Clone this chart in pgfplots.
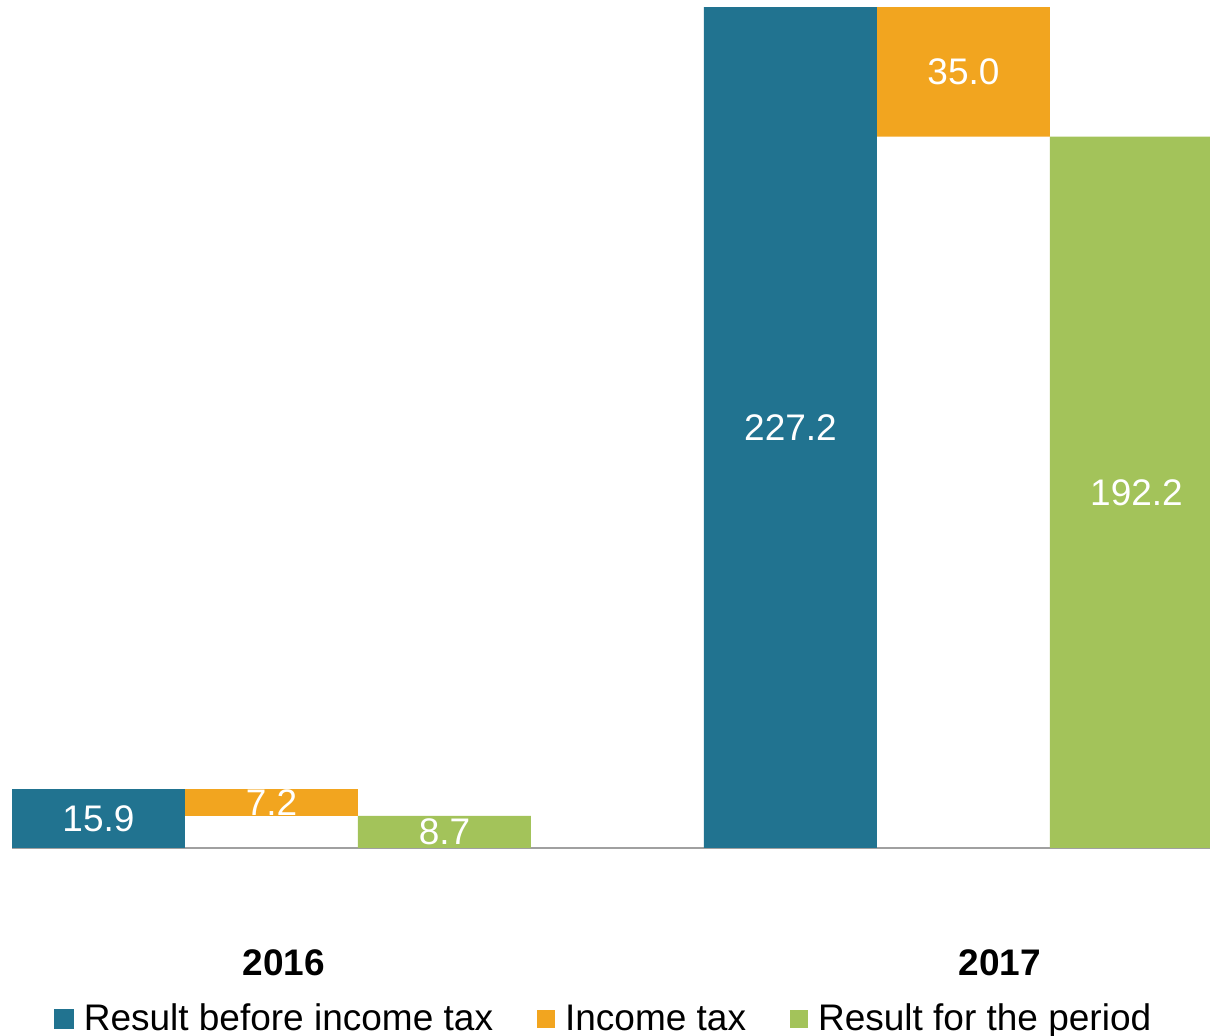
\documentclass[border=0pt]{standalone}
\usepackage{fontspec}
\setmainfont{Liberation Sans}
\usepackage{pgfplots}
\pgfplotsset{compat=1.18}
\definecolor{cblue}{HTML}{217390}
\definecolor{corange}{HTML}{F2A51F}
\definecolor{cgreen}{HTML}{A3C35A}
\definecolor{cline}{HTML}{A0A0A0}
\newcommand{\bigfont}{\fontsize{18.5}{22}\selectfont}
\begin{document}
\begin{tikzpicture}
\path[use as bounding box] (-6pt,-94pt) rectangle (599pt,424pt);
\begin{axis}[
  at={(0,0)}, anchor=south west,
  scale only axis, width=599pt, height=424pt,
  xmin=-0.5, xmax=6.425, ymin=0, ymax=229.1,
  ybar stacked, bar width=1,
  axis y line=none, axis x line*=bottom,
  x axis line style={draw=cline, line width=1pt, -},
  xtick={1.072,5.211}, xticklabels={2016,2017},
  xtick style={draw=none}, major tick length=0pt,
  xticklabel style={font=\bfseries\bigfont, anchor=center, yshift=-57.5pt},
  ytick=\empty,
  legend style={at={(0.4946,-0.2017)}, anchor=center, draw=none, fill=none,
    legend columns=-1, font=\bigfont,
    /tikz/every odd column/.append style={column sep=3pt},
    /tikz/every even column/.append style={column sep=20pt}},
]
\addplot[fill=cblue, draw=none,
  legend image code/.code={\fill[cblue] (0pt,-5pt) rectangle (10pt,5pt);}]
  coordinates {(0,15.9) (1,0) (2,0) (4,227.2) (5,0) (6,0)};
\addlegendentry{Result before income tax}
\addplot[fill=none, draw=none, forget plot]
  coordinates {(0,0) (1,8.7) (2,0) (4,0) (5,192.2) (6,0)};
\addplot[fill=corange, draw=none,
  legend image code/.code={\fill[corange] (0pt,-4.5pt) rectangle (9pt,4.5pt);}]
  coordinates {(0,0) (1,7.2) (2,0) (4,0) (5,35.0) (6,0)};
\addlegendentry{Income tax}
\addplot[fill=cgreen, draw=none,
  legend image code/.code={\fill[cgreen] (0pt,-4.5pt) rectangle (9pt,4.5pt);}]
  coordinates {(0,0) (1,0) (2,8.7) (4,0) (5,0) (6,192.2)};
\addlegendentry{Result for the period}
\end{axis}
\begin{axis}[
  at={(0,0)}, anchor=south west,
  scale only axis, width=599pt, height=424pt,
  xmin=-0.5, xmax=6.425, ymin=0, ymax=229.1,
  hide axis, clip=false,
]
\addplot[draw=none, mark=none, nodes near coords, point meta=explicit symbolic,
  nodes near coords align=center,
  every node near coord/.style={text=white, font=\bigfont, anchor=center}]
  coordinates {(0,7.95)[15.9] (1,12.3)[7.2] (2,4.35)[8.7]
               (4,113.6)[227.2] (5,209.7)[35.0] (6,96.1)[192.2]};
\end{axis}
\end{tikzpicture}
\end{document}
